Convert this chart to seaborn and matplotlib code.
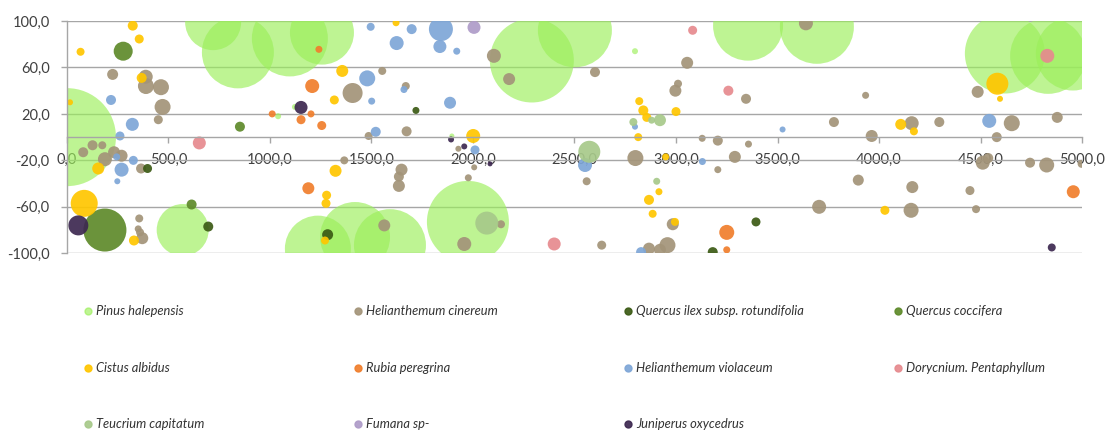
import pandas as pd
import matplotlib.pyplot as plt
from matplotlib.lines import Line2D
from matplotlib.ticker import FuncFormatter
import seaborn as sns

species = ['Pinus halepensis', 'Helianthemum cinereum', 'Quercus ilex subsp. rotundifolia',
           'Quercus coccifera', 'Cistus albidus', 'Rubia peregrina', 'Helianthemum violaceum',
           'Dorycnium. Pentaphyllum', 'Teucrium capitatum', 'Fumana sp-', 'Juniperus oxycedrus']
colors = ['#9BEF5A', '#A39479', '#3B5A14', '#5E8A2A', '#FFC600', '#F07E2C', '#7EA6D7',
          '#E68A8E', '#A7C98A', '#AE9BC8', '#3D2850']

# x = distancia, y = valor, r = tamaño de burbuja
pinus_x = [0, 720, 842, 1098, 1256, 2290, 2502, 3355, 3694, 4620, 4833, 4955, 570, 1236, 1419, 1591, 1975, 1040, 1123, 2798, 1896]
pinus_y = [0, 99, 73, 85, 90, 66, 92, 96, 95, 72, 70, 72, -80, -96, -86, -93, -73, 18, 26, 74, 1]
pinus_r = [49, 28, 36, 38, 32, 42, 37, 35, 37, 40, 38, 37, 26, 33, 35, 36, 41, 3, 3, 3, 2.5]

cin_x = [225, 388, 389, 463, 471, 450, 80, 126, 174, 187, 232, 269, 365, 356, 351, 360, 371,
         1407, 1553, 1669, 1486, 1673, 2103, 2178, 1366, 1648, 1635, 1635, 1563, 1977, 2006, 1957,
         2138, 1928, 2601, 3055, 3010, 2997, 3129, 3206, 2800, 2560, 3206, 2984, 2958, 2867, 2921,
         2634, 3290, 3357, 3705, 3345, 3640, 3934, 3778, 3964, 4161, 4297, 4486, 4654, 4878, 4580,
         4511, 4538, 4744, 4826, 4998, 3898, 4164, 4448, 4158, 4478]
cin_y = [54, 52, 44, 43, 26, 15, -13, -7, -7, -19, -13, -16, -27, -70, -79, -82, -87,
         38, 57, 44, 1, 5, 70, 50, -20, -28, -34, -42, -76, -35, -26, -92,
         -75, -10, 56, 64, 46, 40, -1, -3, -18, -38, -28, -75, -93, -96, -97,
         -93, -17, -6, -60, 33, 98, 36, 13, 1, 12, 13, 39, 12, 17, 0,
         -22, -18, -22, -24, -23, -37, -43, -46, -63, -62]
cin_r = [5.5, 7, 8, 8, 8, 4.5, 5, 5, 4, 7, 6, 6, 5, 4, 3.5, 4, 6,
         10, 4, 4, 4, 5, 7, 6, 4, 6, 5, 6, 6, 3.5, 3, 7,
         4, 3, 5, 6, 4, 6, 3.5, 5, 8, 4, 3.5, 6, 8, 6, 6,
         4.5, 6, 3.5, 7, 5, 7, 3.5, 5, 6, 7, 5, 6, 8, 5.5, 5,
         7, 5, 5, 7.5, 4, 5.5, 6, 4.5, 7.5, 4]

ilex_x = [397, 696, 1284, 1719, 3394, 3181]
ilex_y = [-27, -77, -84, 23, -73, -99]
ilex_r = [4.5, 5, 5.5, 3.5, 4.5, 5]

cocc_x = [277, 852, 187, 614]
cocc_y = [74, 9, -80, -58]
cocc_r = [9.5, 5, 21.5, 5]

cist_x = [324, 356, 67, 368, 15, 154, 85, 330, 1356, 1317, 1621, 2001, 1323, 1279, 1276, 1271,
          2819, 2839, 2856, 3000, 2814, 2949, 2916, 2867, 2885, 2995, 4583, 4596, 4107, 4172, 4029]
cist_y = [96, 84.5, 73.5, 51, 30, -27, -57, -89, 57, 32, 98.5, 1, -29, -50, -57, -89,
          31, 23, 17, 22, 0, -17, -47, -54, -66, -73, 46, 33, 11, 5, -63]
cist_r = [5, 4.5, 4, 5, 3, 6, 13.5, 5, 6, 4.5, 3.5, 7, 6, 4.5, 4.5, 4,
          4, 5, 4.5, 4.5, 4, 3.5, 3.5, 5, 4, 4, 11, 3, 5.5, 4, 4.5]

rubia_x = [1208, 1011, 1153, 1202, 1241, 1255, 1189, 3250, 3250, 4957]
rubia_y = [44, 20, 15, 20, 75.6, 10, -44, -82, -97, -47]
rubia_r = [7, 3.5, 4.5, 3.5, 3.5, 4.5, 6, 7.5, 3.5, 6.5]

viol_x = [217, 322, 261, 327, 269, 245, 248, 1496, 1698, 1624, 1842, 1837, 1920, 1479, 1501,
          1660, 1887, 1521, 2010, 2552, 3130, 2828, 3525, 2798, 4543]
viol_y = [32, 11, 1, -20, -28, -17, -38, 95, 93, 81, 93, 78, 74, 50.6, 31,
          41, 29.6, 4.6, -11, -24, -21, -99, 6.6, 9, 14]
viol_r = [5, 6.5, 4.5, 4.5, 7, 3.5, 3, 4, 5, 7, 12, 6.5, 3.5, 8, 3.5,
          3.5, 6, 5, 4.5, 7, 3.5, 5, 3, 3, 7]

dory_x = [652, 2400, 3082, 3258, 4829]
dory_y = [-5, -92, 92, 40, 70]
dory_r = [6.5, 6.5, 4.5, 5, 7]

teuc_x = [2068, 2573, 2905, 2790, 2921, 2880]
teuc_y = [-74, -12.6, -38, 13, 14.6, 14.6]
teuc_r = [11.5, 11, 3.5, 4, 6, 3.5]

fum_x = [2005]
fum_y = [94.5]
fum_r = [6.5]

juni_x = [56, 1153, 1892, 1957, 2084, 4851]
juni_y = [-76, 25.6, -2, -8, -23, -95]
juni_r = [10, 6.5, 3, 3, 2.5, 4]

series = [(pinus_x, pinus_y, pinus_r), (cin_x, cin_y, cin_r), (ilex_x, ilex_y, ilex_r),
          (cocc_x, cocc_y, cocc_r), (cist_x, cist_y, cist_r), (rubia_x, rubia_y, rubia_r),
          (viol_x, viol_y, viol_r), (dory_x, dory_y, dory_r), (teuc_x, teuc_y, teuc_r),
          (fum_x, fum_y, fum_r), (juni_x, juni_y, juni_r)]

rows = []
for name, (xs, ys, rs) in zip(species, series):
    for x, y, r in zip(xs, ys, rs):
        # radio en px -> area del marcador en pt^2 (dpi 100)
        rows.append({'dist': x, 'val': y, 'sp': name, 'area': (1.44 * r) ** 2})
df = pd.DataFrame(rows)

sns.set_theme(style='white')
plt.rcParams['font.family'] = ['Lato', 'DejaVu Sans']

fig = plt.figure(figsize=(11.05, 4.32), dpi=100)
ax = fig.add_axes([0.0606, 0.4137, 0.9186, 0.5377])

pal = dict(zip(species, colors))
common = dict(x='dist', y='val', hue='sp', palette=pal, size='area', sizes=(0, 10000),
              size_norm=(0, 10000), linewidth=0, legend=False, ax=ax)
sns.scatterplot(data=df[df['sp'] == species[0]], alpha=0.65, **common)
sns.scatterplot(data=df[df['sp'] != species[0]], alpha=0.92, **common)

ax.set_xlim(0, 5000)
ax.set_ylim(-100, 100)
ax.set_xticks(range(0, 5001, 500))
ax.set_yticks([-100, -60, -20, 20, 60, 100])
fmt = FuncFormatter(lambda v, p: f'{v:.1f}'.replace('.', ','))
ax.xaxis.set_major_formatter(fmt)
ax.yaxis.set_major_formatter(fmt)
ax.set_xlabel('')
ax.set_ylabel('')

ax.grid(False)
ax.yaxis.grid(True, color='#a6a6a6', lw=1)
ax.set_axisbelow(True)
for s in ['top', 'right']:
    ax.spines[s].set_visible(False)
ax.spines['bottom'].set_position(('data', 0))
for s in ['bottom', 'left']:
    ax.spines[s].set_color('#a6a6a6')
    ax.spines[s].set_linewidth(1)

ax.tick_params(axis='x', bottom=True, direction='out', length=4, width=1, color='#a6a6a6',
               pad=7, labelsize=10.5, labelcolor='#404040')
ax.tick_params(axis='y', left=True, direction='out', length=4.5, width=1, color='#a6a6a6',
               pad=8, labelsize=10.5, labelcolor='#404040')

# leyenda manual en 4 columnas
for i, (name, c) in enumerate(zip(species, colors)):
    col, row = i % 4, i // 4
    xm = 0.0796 + col * 0.2443
    ym = 0.2801 - row * 0.1308
    fig.add_artist(Line2D([xm], [ym], marker='o', ms=5, color=c, ls='',
                          alpha=0.65 if i == 0 else 0.92, transform=fig.transFigure))
    fig.text(xm + 0.0075, ym, name, style='italic', fontsize=9.3, va='center', ha='left',
             color='#333333')

fig.savefig('out.png', dpi=100)
